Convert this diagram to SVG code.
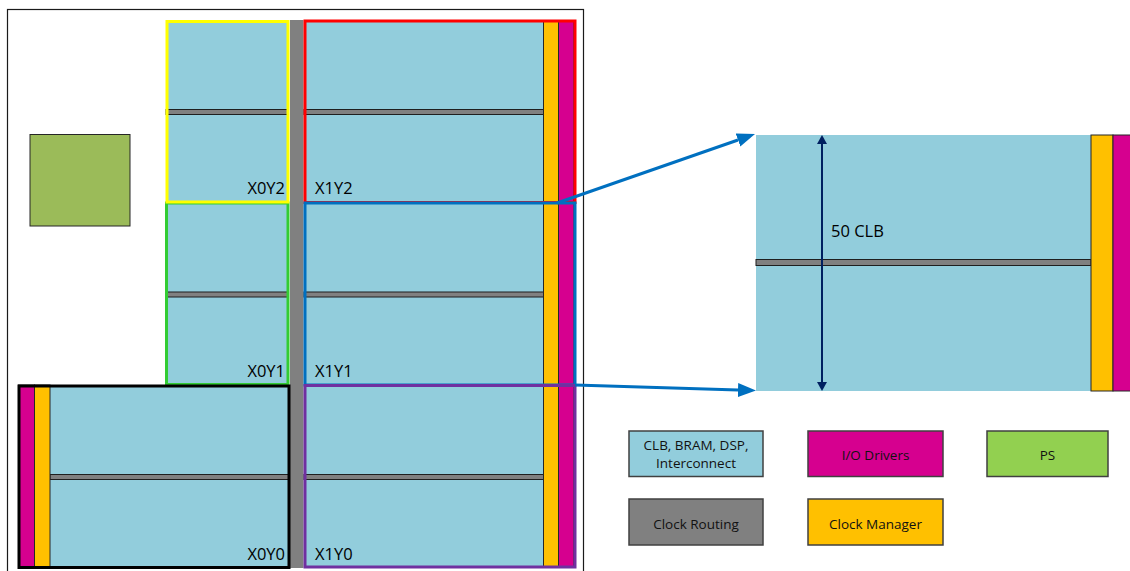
<svg xmlns="http://www.w3.org/2000/svg" width="1130" height="571" viewBox="0 0 1130 571">
  <defs>
    <style>
      .cell { fill: #92CDDC; stroke: none; }
      .bar { fill: #808080; stroke: #1f1f1f; stroke-width: 1; }
      .clk { fill: #FFC000; stroke: #262626; stroke-width: 1; }
      .io { fill: #D6008F; stroke: #262626; stroke-width: 1; }
      .lbl { font-family: "Open Sans", "Noto Sans", "Liberation Sans", sans-serif; font-size: 16.5px; fill: #000; }
      .leg { stroke: #404040; stroke-width: 1.5; }
      .legt { font-family: "Open Sans", "Noto Sans", "Liberation Sans", sans-serif; font-size: 13.5px; fill: #111; text-anchor: middle; }
      .region { fill: none; stroke-width: 3; }
      .conn { stroke: #0070C0; stroke-width: 3; fill: none; }
    </style>
    <marker id="bluehead" markerUnits="userSpaceOnUse" markerWidth="18" markerHeight="14" refX="0" refY="7" orient="auto">
      <path d="M0,0 L18,7 L0,14 z" fill="#0070C0"/>
    </marker>
    <marker id="navyhead" markerUnits="userSpaceOnUse" markerWidth="9" markerHeight="10" refX="0" refY="5" orient="auto-start-reverse">
      <path d="M0,0 L9,5 L0,10 z" fill="#002060"/>
    </marker>
  </defs>

  <rect width="1130" height="571" fill="#FFFFFF"/>

  <!-- device frame -->
  <g id="frame">
    <rect x="7.5" y="9.5" width="576" height="570" fill="none" stroke="#1a1a1a" stroke-width="1.2"/>
  </g>

  <!-- PS block -->
  <g id="ps-block">
    <rect x="30" y="134.5" width="100" height="91.5" fill="#9BBB59" stroke="#262626" stroke-width="1"/>
  </g>

  <!-- clock routing spine -->
  <g id="clock-spine">
    <rect x="290" y="20" width="13.5" height="548" fill="#808080"/>
  </g>

  <!-- X0Y2 -->
  <g id="X0Y2">
    <rect class="cell" x="166" y="20.5" width="122.5" height="182"/>
    <rect class="bar" x="166" y="109.5" width="122.5" height="5"/>
    <text class="lbl" x="285" y="193.5" text-anchor="end">X0Y2</text>
  </g>

  <!-- X0Y1 -->
  <g id="X0Y1">
    <rect class="cell" x="166" y="202.5" width="122.5" height="182.5"/>
    <rect class="bar" x="166" y="292" width="122.5" height="5"/>
    <text class="lbl" x="285" y="376.5" text-anchor="end">X0Y1</text>
  </g>

  <!-- X0Y0 -->
  <g id="X0Y0">
    <rect class="cell" x="50" y="385" width="239" height="182"/>
    <rect class="bar" x="50" y="474.5" width="239" height="5"/>
    <rect class="io" x="18.5" y="385" width="16" height="182"/>
    <rect class="clk" x="34.5" y="385" width="15.5" height="182"/>
    <text class="lbl" x="285" y="560" text-anchor="end">X0Y0</text>
  </g>

  <!-- X1 column -->
  <g id="X1Y2">
    <rect class="cell" x="304" y="20.5" width="239.5" height="182"/>
    <rect class="bar" x="304" y="109.5" width="239.5" height="5"/>
    <text class="lbl" x="315" y="193.5">X1Y2</text>
  </g>
  <g id="X1Y1">
    <rect class="cell" x="304" y="202.5" width="239.5" height="182.5"/>
    <rect class="bar" x="304" y="292" width="239.5" height="5"/>
    <text class="lbl" x="315" y="376.5">X1Y1</text>
  </g>
  <g id="X1Y0">
    <rect class="cell" x="304" y="385" width="239.5" height="182"/>
    <rect class="bar" x="304" y="474.5" width="239.5" height="5"/>
    <text class="lbl" x="315" y="560">X1Y0</text>
  </g>
  <g id="X1-clock-io">
    <rect class="clk" x="543.5" y="20.5" width="15" height="546.5"/>
    <rect class="io" x="558.5" y="20.5" width="15.5" height="546.5"/>
  </g>

  <!-- region outlines -->
  <g id="region-outlines">
    <rect class="region" x="166.5" y="203" width="121.5" height="181.5" stroke="#33CC33" stroke-width="2.5"/>
    <rect class="region" x="167" y="21.5" width="121" height="180.5" stroke="#FFFF00"/>
    <rect class="region" x="19" y="386" width="270" height="181.5" stroke="#000000" stroke-width="3.2"/>
    <rect class="region" x="305" y="21" width="270" height="181.5" stroke="#FF0000" stroke-width="2.5"/>
    <rect class="region" x="305" y="203" width="270" height="182" stroke="#0070C0"/>
    <rect class="region" x="305" y="385.5" width="270" height="181.5" stroke="#7030A0"/>
  </g>

  <!-- zoomed clock region detail -->
  <g id="region-detail">
    <rect class="cell" x="756" y="135" width="335" height="256" stroke="#333333" stroke-width="1"/>
    <rect class="bar" x="756" y="259.5" width="335" height="6"/>
    <rect class="clk" x="1091" y="135" width="22" height="256"/>
    <rect class="io" x="1113" y="135" width="20" height="256"/>
    <line x1="822" y1="144" x2="822" y2="382" stroke="#002060" stroke-width="2" marker-start="url(#navyhead)" marker-end="url(#navyhead)"/>
    <text class="lbl" x="831" y="237" font-size="16">50 CLB</text>
  </g>

  <!-- connectors -->
  <g id="connectors">
    <line class="conn" x1="557" y1="203" x2="738" y2="140" marker-end="url(#bluehead)"/>
    <line class="conn" x1="575" y1="385" x2="738" y2="390" marker-end="url(#bluehead)"/>
  </g>

  <!-- legend -->
  <g id="legend-clb">
    <rect class="leg" x="629" y="431" width="134" height="45.5" fill="#92CDDC"/>
    <text class="legt" x="696" y="449.5">CLB, BRAM, DSP,</text>
    <text class="legt" x="696" y="468">Interconnect</text>
  </g>
  <g id="legend-io">
    <rect class="leg" x="808" y="431" width="135" height="45.5" fill="#D6008F"/>
    <text class="legt" x="875.5" y="459.5">I/O Drivers</text>
  </g>
  <g id="legend-ps">
    <rect class="leg" x="987" y="431" width="121" height="45.5" fill="#92D050"/>
    <text class="legt" x="1047.5" y="459.5">PS</text>
  </g>
  <g id="legend-clock-routing">
    <rect class="leg" x="629" y="499" width="134" height="46" fill="#808080"/>
    <text class="legt" x="696" y="528.5">Clock Routing</text>
  </g>
  <g id="legend-clock-manager">
    <rect class="leg" x="808" y="499" width="135" height="46" fill="#FFC000"/>
    <text class="legt" x="875.5" y="528.5">Clock Manager</text>
  </g>
</svg>
